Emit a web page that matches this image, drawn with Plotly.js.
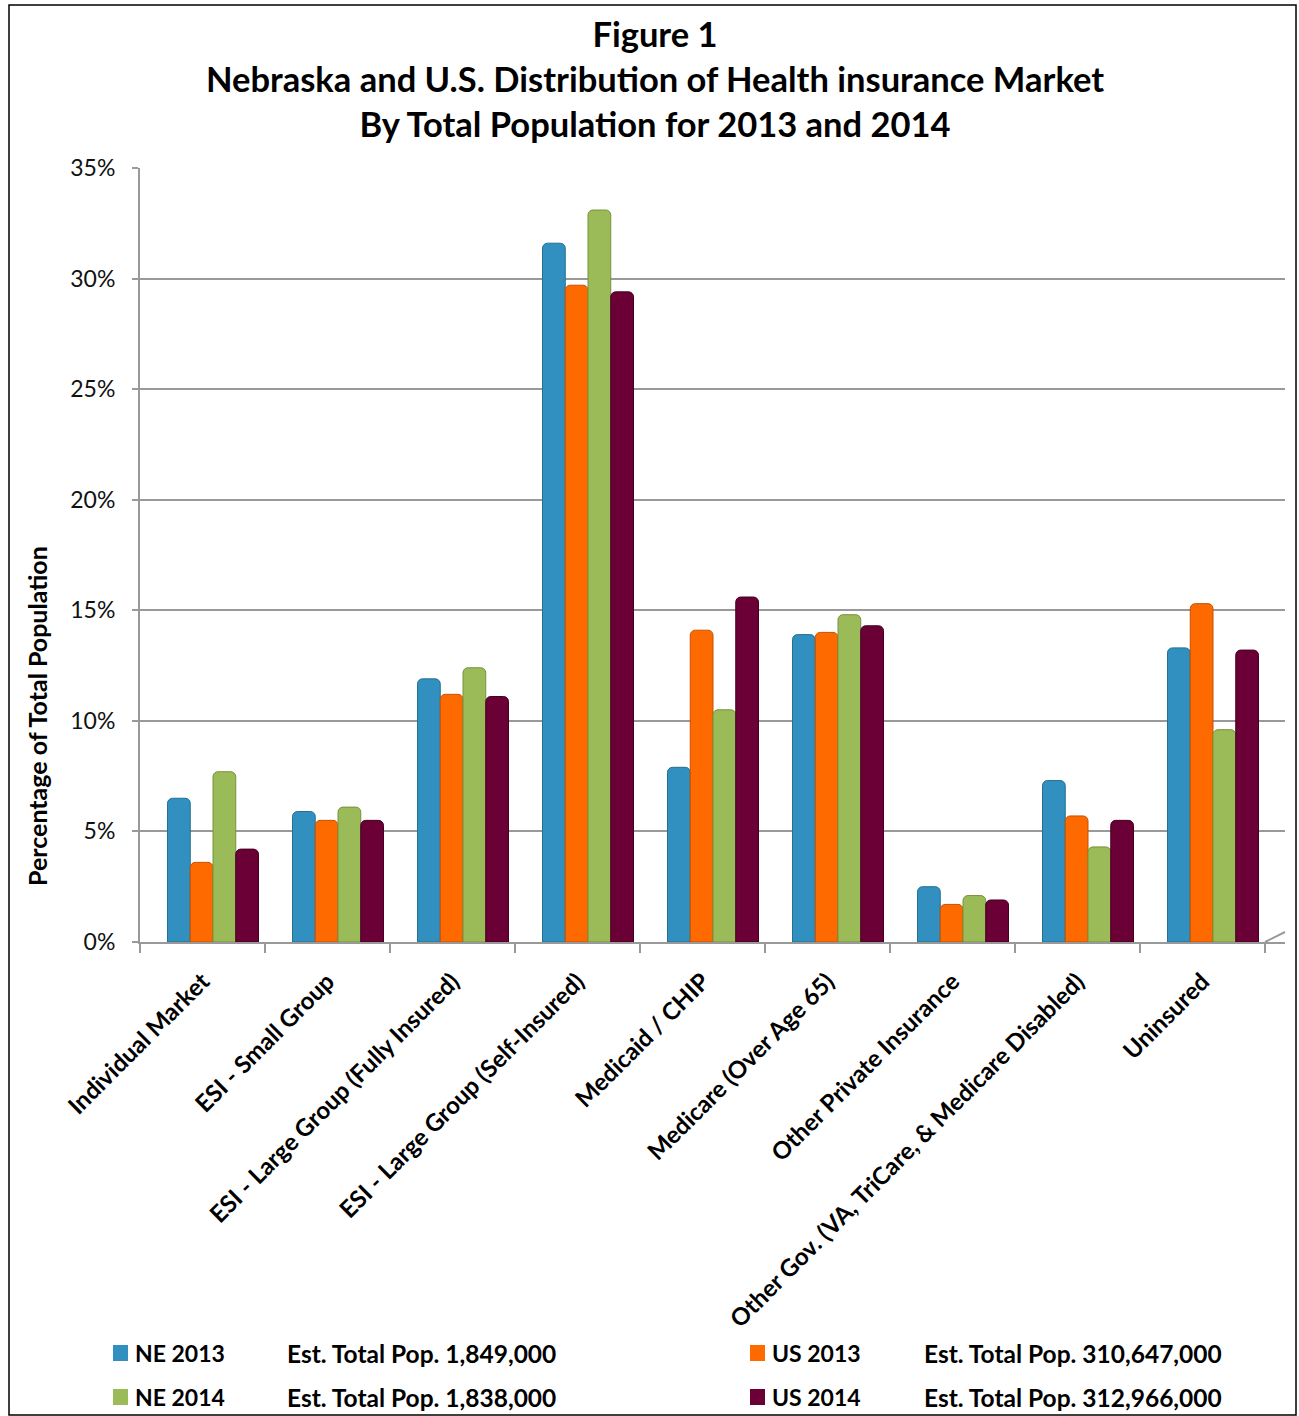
<!DOCTYPE html>
<html>
<head>
<meta charset="utf-8">
<script src="https://cdn.plot.ly/plotly-3.0.1.min.js"></script>
<style>html,body{margin:0;padding:0;background:#fff;}#chart{width:1299px;height:1416px;}</style>
</head>
<body>
<div id="chart"></div>
<script>
// ---- data ----
const categories = [
  "Individual Market",
  "ESI - Small Group",
  "ESI - Large Group (Fully Insured)",
  "ESI - Large Group (Self-Insured)",
  "Medicaid / CHIP",
  "Medicare (Over Age 65)",
  "Other Private Insurance",
  "Other Gov. (VA, TriCare, & Medicare Disabled)",
  "Uninsured"
];
const seriesNames = ["NE 2013", "US 2013", "NE 2014", "US 2014"];
const popNotes = ["Est. Total Pop. 1,849,000", "Est. Total Pop. 310,647,000", "Est. Total Pop. 1,838,000", "Est. Total Pop. 312,966,000"];
const ne2013 = [6.5, 5.9, 11.9, 31.6, 7.9, 13.9, 2.5, 7.3, 13.3];
const us2013 = [3.6, 5.5, 11.2, 29.7, 14.1, 14.0, 1.7, 5.7, 15.3];
const ne2014 = [7.7, 6.1, 12.4, 33.1, 10.5, 14.8, 2.1, 4.3, 9.6];
const us2014 = [4.2, 5.5, 11.1, 29.4, 15.6, 14.3, 1.9, 5.5, 13.2];
const yTickVals = [0, 5, 10, 15, 20, 25, 30, 35];
const yTickText = ["0%", "5%", "10%", "15%", "20%", "25%", "30%", "35%"];
const titleText = "Figure 1<br>Nebraska and U.S. Distribution of Health insurance Market<br>By Total Population for 2013 and 2014";
const yTitle = "Percentage of Total Population";

// ---- style ----
const colors = ["#3190C0", "#FF6A00", "#9BBB59", "#6A0035"];
const lineColors = ["#23708f", "#c65000", "#76923c", "#45001f"];
const FONT = "Lato, 'Open Sans', 'Liberation Sans', sans-serif";
const W = 1299, H = 1416, L = 140, R = 14, T = 168, B = 474;
const PW = W - L - R, PH = H - T - B;
const px = v => (v - L) / PW;
const py = v => (H - B - v) / PH;

const allSeries = [ne2013, us2013, ne2014, us2014];
const barW = 0.182, barStart = -0.28;
const traces = allSeries.map((vals, i) => ({
  type: "bar",
  name: seriesNames[i],
  x: categories,
  y: vals,
  width: barW,
  offset: barStart + barW * i,
  marker: { color: colors[i], line: { color: lineColors[i], width: 1 }, cornerradius: 5 },
  hovertemplate: "%{x}<br>" + seriesNames[i] + ": %{y:.1f}%<extra></extra>"
}));

const annotations = [
  { text: "<b>" + yTitle + "</b>", textangle: -90, xref: "paper", yref: "paper",
    x: px(37), y: py(716), xanchor: "center", yanchor: "middle", showarrow: false,
    font: { family: FONT, size: 25, color: "#000", weight: "bold" } }
];
const shapes = [
  { type: "rect", xref: "paper", yref: "paper", x0: px(9), x1: px(1296), y0: py(1415), y1: py(5),
    line: { color: "#000", width: 1.5 }, fillcolor: "rgba(0,0,0,0)", layer: "above" },
  // floor right edge perspective
  { type: "line", xref: "paper", yref: "paper", x0: px(1265), x1: px(1285), y0: py(942), y1: py(932),
    line: { color: "#999", width: 2 } }
];
const legendRows = [1353, 1397];
const legendCols = [113, 750];
seriesNames.forEach((nm, i) => {
  const order = [[0, 0], [1, 0], [0, 1], [1, 1]][i]; // [col,row]
  const cx = legendCols[order[0]], cy = legendRows[order[1]];
  shapes.push({ type: "rect", xref: "paper", yref: "paper", x0: px(cx), x1: px(cx + 15),
    y0: py(cy + 8), y1: py(cy - 8), fillcolor: colors[i], line: { width: 0 } });
  annotations.push({ text: "<b>" + nm + "</b>", xref: "paper", yref: "paper", x: px(cx + 20), y: py(cy),
    xanchor: "left", yanchor: "middle", showarrow: false, font: { family: FONT, size: 23, color: "#000" } });
  annotations.push({ text: "<b>" + popNotes[i] + "</b>", xref: "paper", yref: "paper", x: px(cx + 172), y: py(cy),
    xanchor: "left", yanchor: "middle", showarrow: false, font: { family: FONT, size: 24.5, color: "#000" } });
});

const layout = {
  width: W, height: H,
  margin: { l: L, r: R, t: T, b: B },
  paper_bgcolor: "#fff", plot_bgcolor: "#fff",
  showlegend: false,
  barmode: "group",
  title: { text: "<b>" + titleText + "</b>", x: px(655), xanchor: "center", xref: "paper",
    y: 1 - 47 / H, yanchor: "top", yref: "container",
    font: { family: FONT, size: 34.5, color: "#000" } },
  xaxis: {
    type: "category", range: [-0.5, 8.66], tickangle: -45,
    tickson: "boundaries", ticks: "outside", ticklen: 9, tickcolor: "#999", tickwidth: 2,
    ticklabelstandoff: 14,
    showline: true, linecolor: "#999", linewidth: 2, showgrid: false,
    tickfont: { family: FONT, size: 24, color: "#000", weight: "bold" },
    fixedrange: true
  },
  yaxis: {
    range: [0, 35], tickvals: yTickVals, ticktext: yTickText,
    ticks: "outside", ticklen: 6, tickcolor: "#999", tickwidth: 2,
    ticklabelstandoff: 12,
    showline: true, linecolor: "#999", linewidth: 2,
    showgrid: true, gridcolor: "#999", gridwidth: 2, zeroline: false,
    tickfont: { family: FONT, size: 23, color: "#111" },
    fixedrange: true
  },
  annotations: annotations,
  shapes: shapes
};

Plotly.newPlot("chart", traces, layout, { displayModeBar: false, staticPlot: false });
</script>
</body>
</html>
